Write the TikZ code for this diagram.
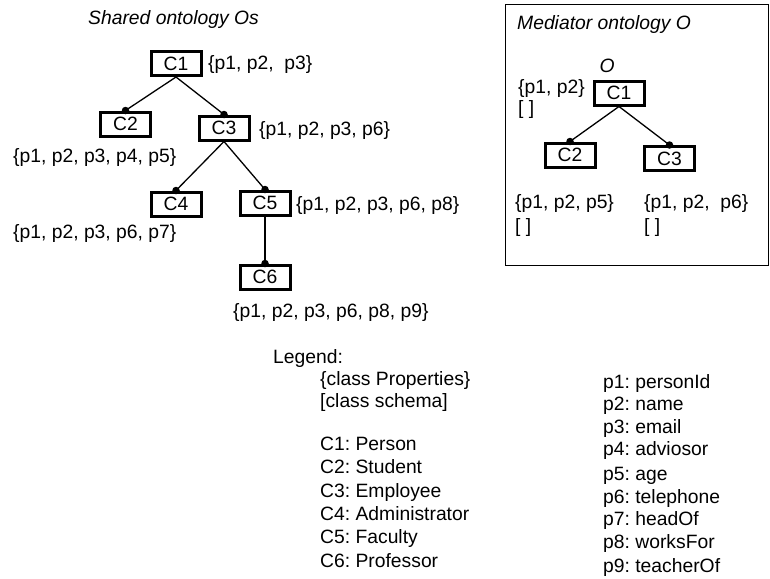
\documentclass[tikz,border=0pt]{standalone}
\usepackage{fontspec}
\setmainfont{Liberation Sans}
\frenchspacing
\begin{document}
\begin{tikzpicture}[x=1pt,y=-1pt,
  every node/.style={font=\fontsize{19.3}{22}\selectfont, inner sep=0pt, text height=14pt, text depth=4pt},
  cls/.style={draw, line width=3pt, minimum width=50pt, minimum height=24pt, align=center, text height=13.8pt, text depth=0pt},
  lbl/.style={anchor=west},
  edge/.style={line width=1.3pt},
  dot/.style={circle, fill=black, minimum size=7.5pt, inner sep=0pt, text height=, text depth=}]
\useasboundingbox (0,0) rectangle (770,578);

% Shared ontology
\node[lbl, font=\fontsize{19.3}{22}\selectfont\itshape] (t1) at (88,20) {Shared ontology Os};
\node[cls] (a1) at (176,63.5) {C1};
\node[cls] (a2) at (125.5,124) {C2};
\node[cls] (a3) at (224,128) {C3};
\node[cls] (a4) at (176,204) {C4};
\node[cls] (a5) at (265,203) {C5};
\node[cls] (a6) at (265,277) {C6};
\node[lbl] (pa1) at (208,65) {\{p1, p2,\ \ p3\}};
\node[lbl] (pa3) at (259,130) {\{p1, p2, p3, p6\}};
\node[lbl] (pa2) at (13,157) {\{p1, p2, p3, p4, p5\}};
\node[lbl] (pa5) at (296,205) {\{p1, p2, p3, p6, p8\}};
\node[lbl] (pa4) at (13,233) {\{p1, p2, p3, p6, p7\}};
\node[lbl] (pa6) at (233,312) {\{p1, p2, p3, p6, p8, p9\}};
\draw[edge] (a1.south) -- (a2.north);
\draw[edge] (a1.south) -- (a3.north);
\draw[edge] (a3.south) -- (a4.north);
\draw[edge] (a3.south) -- (a5.north);
\draw[edge] (a5.south) -- (a6.north);
\foreach \n in {a2,a3,a4,a5,a6} \node[dot] at (\n.north) {};

% Mediator ontology
\node[draw, line width=1pt, minimum width=263pt, minimum height=261pt, anchor=north west, text height=, text depth=] (frame) at (505,4) {};
\node[lbl, font=\fontsize{19.3}{22}\selectfont\itshape] (t2) at (517,25) {Mediator ontology O};
\node[font=\fontsize{19.3}{22}\selectfont\itshape] (o) at (607,67) {O};
\node[cls] (b1) at (619,93) {C1};
\node[cls] (b2) at (570,155) {C2};
\node[cls] (b3) at (669.5,158.5) {C3};
\node[lbl] (pb1) at (518,88) {\{p1, p2\}};
\node[lbl] (sb1) at (518,109) {[ ]};
\node[lbl] (pb2) at (515,203) {\{p1, p2, p5\}};
\node[lbl] (sb2) at (515,227) {[ ]};
\node[lbl] (pb3) at (644,203) {\{p1, p2,\ \ p6\}};
\node[lbl] (sb3) at (644,227) {[ ]};
\draw[edge] (b1.south) -- (b2.north);
\draw[edge] (b1.south) -- (b3.north);
\foreach \n in {b2,b3} \node[dot] at (\n.north) {};

% Legend
\node[lbl] (leg) at (273,358) {Legend:};
\node[lbl] (l1) at (320,380) {\{class Properties\}};
\node[lbl] (l2) at (320,402) {[class schema]};
\node[lbl] (c1) at (320,445) {C1: Person};
\node[lbl] (c2) at (320,468) {C2: Student};
\node[lbl] (c3) at (320,492) {C3: Employee};
\node[lbl] (c4) at (320,515) {C4: Administrator};
\node[lbl] (c5) at (320,538) {C5: Faculty};
\node[lbl] (c6) at (320,562) {C6: Professor};
\node[lbl] (q1) at (603,383) {p1: personId};
\node[lbl] (q2) at (603,405) {p2: name};
\node[lbl] (q3) at (603,428) {p3: email};
\node[lbl] (q4) at (603,450) {p4: adviosor};
\node[lbl] (q5) at (603,475) {p5: age};
\node[lbl] (q6) at (603,498) {p6: telephone};
\node[lbl] (q7) at (603,520) {p7: headOf};
\node[lbl] (q8) at (603,543) {p8: worksFor};
\node[lbl] (q9) at (603,567) {p9: teacherOf};
\end{tikzpicture}
\end{document}
